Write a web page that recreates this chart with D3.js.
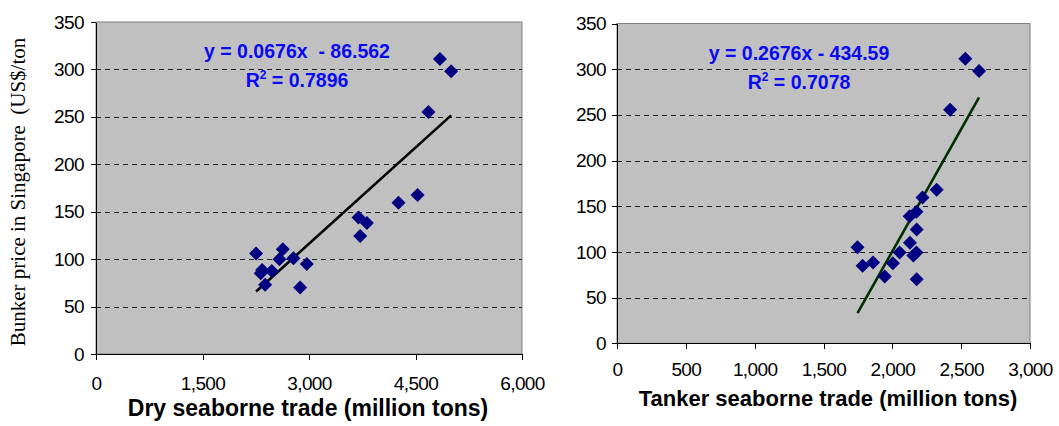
<!DOCTYPE html>
<meta charset="utf-8">
<title>Bunker price vs seaborne trade</title>
<style>
body { margin: 0; background: #fff; }
svg { font-family: "Liberation Sans", Arial, sans-serif; }
.axis path, .axis line { stroke: #000; shape-rendering: crispEdges; }
.axis text { font-size: 19px; fill: #000; letter-spacing: -0.6px; }
.grid line { stroke: #222; stroke-dasharray: 5,4; shape-rendering: crispEdges; }
.eq { font-weight: bold; fill: #0a0af0; font-size: 19.5px; }
.xtitle { font-weight: bold; fill: #000; }
.ytitle { font-family: "Liberation Serif", "Times New Roman", serif; font-size: 21px; }
</style>
<body>
<script src="https://cdn.jsdelivr.net/npm/d3@7"></script>
<script>

// dry seaborne trade (million tons) vs bunker price
var dryTrade = [2255, 2631, 2584, 2781, 2969, 2340, 2476, 2320, 2382, 2875, 3697, 3815, 3721, 4261, 4529, 4682, 4844, 5002];
var dryPrice = [106, 110.5, 100, 101, 95, 88.5, 87.5, 85, 73, 70, 144, 138, 124.5, 159.5, 167.5, 255, 311, 298];

// tanker seaborne trade (million tons) vs bunker price
var tankerTrade = [2530, 2630, 2420, 2322, 2219, 2175, 2126, 2177, 2128, 1747, 2053, 2175, 2153, 1860, 2004, 1784, 1945, 2177];
var tankerPrice = [311.5, 298, 255.5, 168, 159.5, 144, 139, 124.5, 110, 105, 99.5, 99.5, 96, 88.5, 87.5, 85, 73, 70];

var priceTicks = [0, 50, 100, 150, 200, 250, 300, 350];
var gridTicks = [50, 100, 150, 200, 250, 300];
var dryTicks = [0, 1500, 3000, 4500, 6000];
var tankerTicks = [0, 500, 1000, 1500, 2000, 2500, 3000];

var dryFit = {slope: 0.0676, icept: -86.562, eq: "y = 0.0676x  - 86.562", r2: " = 0.7896"};
var tankerFit = {slope: 0.2676, icept: -434.59, eq: "y = 0.2676x - 434.59", r2: " = 0.7078"};

var svg = d3.select("body").append("svg")
    .attr("width", 1059)
    .attr("height", 426);

function chart(o) {
  var x = d3.scaleLinear().domain([0, o.xmax]).range([o.left, o.right]);
  var y = d3.scaleLinear().domain([0, 350]).range([o.bottom, o.top]);
  var g = svg.append("g");

  g.append("rect")
      .attr("x", o.left).attr("y", o.top)
      .attr("width", o.right - o.left).attr("height", o.bottom - o.top)
      .attr("fill", "#c0c0c0")
      .attr("stroke", "#808080");

  g.append("g").attr("class", "grid")
    .selectAll("line")
      .data(gridTicks)
    .enter().append("line")
      .attr("x1", o.left).attr("x2", o.right)
      .attr("y1", function(d) { return Math.round(y(d)) + 0.5; })
      .attr("y2", function(d) { return Math.round(y(d)) + 0.5; });

  g.append("g").attr("class", "axis")
      .attr("transform", "translate(" + o.left + ",0)")
      .call(d3.axisLeft(y).tickValues(priceTicks).tickSize(5).tickSizeOuter(0).tickPadding(o.ypad));

  g.append("g").attr("class", "axis")
      .attr("transform", "translate(0," + o.bottom + ")")
      .call(d3.axisBottom(x).tickValues(o.ticks).tickFormat(d3.format(",")).tickSize(6).tickSizeOuter(0).tickPadding(o.xpad));

  // trend line over the data range
  var ext = d3.extent(o.xs);
  g.append("path")
      .attr("d", d3.line()(ext.map(function(v) { return [x(v), y(o.fit.slope * v + o.fit.icept)]; })))
      .attr("stroke", o.lineColor)
      .attr("stroke-width", 2.6)
      .attr("fill", "none");

  var diamond = d3.symbol(d3.symbolSquare, 98);
  g.append("g").selectAll("path")
      .data(o.xs.map(function(v, i) { return [v, o.ys[i]]; }))
    .enter().append("path")
      .attr("d", diamond)
      .attr("fill", "#000080")
      .attr("transform", function(d) { return "translate(" + x(d[0]) + "," + y(d[1]) + ") rotate(45)"; });

  g.append("text").attr("class", "eq")
      .attr("x", o.eqX).attr("y", o.eqY)
      .attr("text-anchor", "middle")
      .style("white-space", "pre")
      .text(o.fit.eq);

  var r = g.append("text").attr("class", "eq")
      .attr("x", o.eqX).attr("y", o.eqY + 29)
      .attr("text-anchor", "middle");
  r.append("tspan").text("R");
  r.append("tspan").attr("dy", -8).style("font-size", "12px").text("2");
  r.append("tspan").attr("dy", 8).text(o.fit.r2);

  g.append("text").attr("class", "xtitle")
      .attr("x", o.titleX).attr("y", o.titleY)
      .attr("text-anchor", "middle")
      .style("font-size", o.titleSize + "px")
      .text(o.title);
}

chart({
  left: 96, right: 522, top: 22, bottom: 354,
  xmax: 6000, ticks: dryTicks, xs: dryTrade, ys: dryPrice,
  fit: dryFit, lineColor: "#000",
  ypad: 7, xpad: 17,
  eqX: 297, eqY: 58,
  title: "Dry seaborne trade (million tons)", titleX: 308, titleY: 416, titleSize: 23
});

chart({
  left: 617, right: 1030, top: 23.5, bottom: 343.3,
  xmax: 3000, ticks: tankerTicks, xs: tankerTrade, ys: tankerPrice,
  fit: tankerFit, lineColor: "#003000",
  ypad: 6, xpad: 13,
  eqX: 799, eqY: 60,
  title: "Tanker seaborne trade (million tons)", titleX: 828, titleY: 406, titleSize: 22
});

svg.append("text").attr("class", "ytitle")
    .attr("transform", "translate(25,192) rotate(-90)")
    .attr("text-anchor", "middle")
    .style("white-space", "pre")
    .text("Bunker price in Singapore  (US$/ton");

</script>
